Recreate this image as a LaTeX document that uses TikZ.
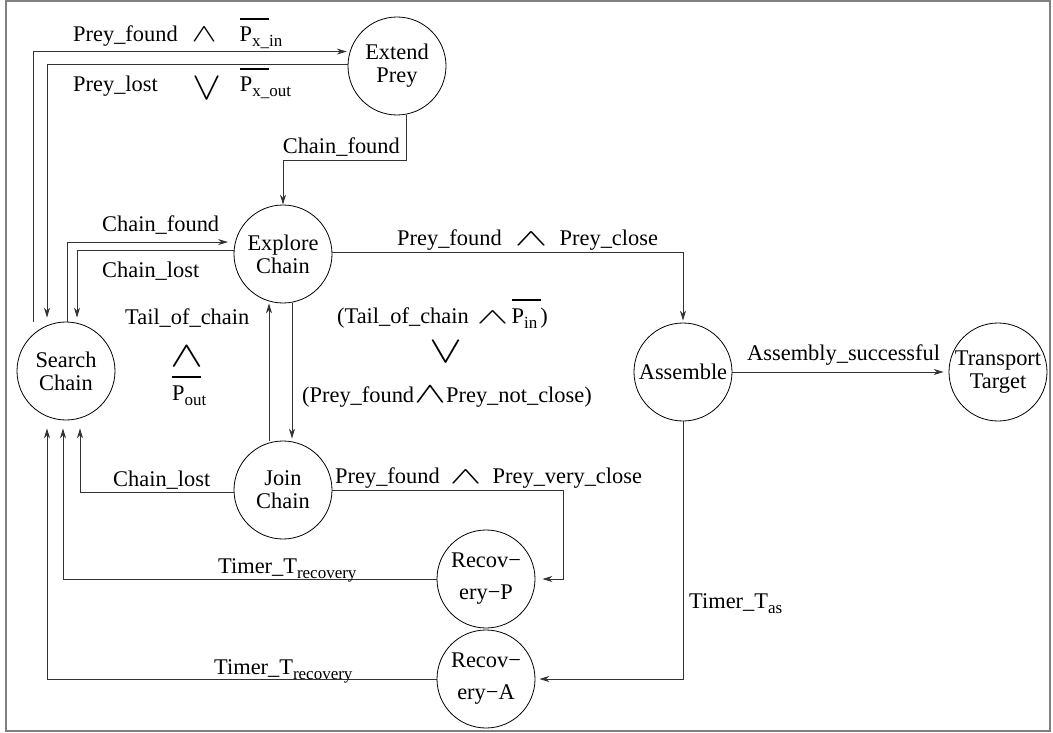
\documentclass[tikz,border=0pt]{standalone}
\usepackage{graphicx}
\usepackage{fontspec}
\setmainfont{Liberation Serif}
\usetikzlibrary{arrows.meta,calc}
\newcommand\olP{\rlap{\rule[1em]{1.3em}{0.05em}}P}
\newcommand\sbs[1]{\raisebox{-5pt}{\fontsize{17}{17}\selectfont #1}}
\newcommand\wdg[2]{\resizebox{#1}{#2}{$\wedge$}}
\newcommand\orv[2]{\resizebox{#1}{#2}{$\vee$}}
\begin{document}
\begin{tikzpicture}[x=1pt,y=-1pt,
  state/.style={circle,draw,line width=0.8pt,minimum size=98pt,inner sep=0pt,align=center,font=\fontsize{22.4}{23}\selectfont},
  lbl/.style={inner sep=0pt,font=\fontsize{22.4}{23}\selectfont},
  conn/.style={line width=0.8pt,draw=black!80},
  arr/.style={conn,-{Stealth[length=10pt,width=6pt]}},
]
\useasboundingbox (0,0) rectangle (1053,733);
\draw[gray,line width=1.5pt] (6,1) rectangle (1050,731);

% states
\node[state] (ext)  at (397,66)  {Extend\\Prey};
\node[state] (expl) at (283,254) {Explore\\Chain};
\node[state] (srch) at (66,371)  {Search\\Chain};
\node[state] (join) at (283,490) {Join\\Chain};
\node[state] (recp) at (486,579) {Recov−\\[9pt]ery−P};
\node[state] (reca) at (486,679) {Recov−\\[9pt]ery−A};
\node[state] (asm)  at (683,372) {Assemble};
\node[state] (trn)  at (998,372) {Transport\\Target};

% connectors
\draw[arr,shorten >=3pt] ([xshift=-33pt]srch.north) |- (ext.163);
\draw[arr] (ext.178) -| ([xshift=-19pt,yshift=4pt]srch.north);
\draw[arr] ([xshift=9pt]ext.south) -- ++(0,45) -| (expl.north);
\draw[arr,shorten >=7pt] ([xshift=1pt]srch.north) |- (expl.166);
\draw[arr] (expl.176) -| ([xshift=11pt,yshift=4pt]srch.north);
\draw[arr,shorten >=2pt] (expl.2) -| (asm.north);
\draw[arr,shorten >=2pt] ([xshift=9pt]expl.south) -- ([xshift=9pt]join.north);
\draw[arr] ([xshift=-14pt]join.north) -- ([xshift=-14pt]expl.south);
\draw[arr] (join.183) -| ([xshift=14pt,yshift=-8pt]srch.south);
\draw[arr,shorten >=7pt] (join.east) -| ($(recp.east)+(28,0)$) |- (recp.east);
\draw[arr] (recp.west) -| ([xshift=-3pt,yshift=-8pt]srch.south);
\draw[arr] (reca.west) -| ([xshift=-19pt,yshift=-8pt]srch.south);
\draw[arr,shorten >=5pt] (asm.east) -- (trn.west);
\draw[arr,shorten >=4pt] (asm.south) |- (reca.east);

% labels
\node[lbl,anchor=base west] (l1) at (73,42) {Prey\_found\hspace{14pt}\wdg{25pt}{14pt}\hspace{23pt}\olP\sbs{x\_in}};
\node[lbl,anchor=base west] (l2) at (73,92) {Prey\_lost\hspace{35pt}\raisebox{-8pt}{\orv{29pt}{22pt}}\hspace{18pt}\olP\sbs{x\_out}};
\node[lbl,anchor=base east] (l3) at (400,154) {Chain\_found};
\node[lbl,anchor=base west] (l4) at (102,232) {Chain\_found};
\node[lbl,anchor=base west] (l5) at (102,277) {Chain\_lost};
\node[lbl,anchor=base west] (l6) at (125,324) {Tail\_of\_chain};
\node[lbl] (l6w) at (187,356) {\wdg{33pt}{20pt}};
\node[lbl,anchor=base west] (l6p) at (172,400) {\olP\sbs{out}};
\node[lbl,anchor=base west] (l7) at (337,323) {(Tail\_of\_chain\hspace{8pt}\wdg{32pt}{12pt}\hspace{3pt}\olP\sbs{in}\hspace{3pt})};
\node[lbl] (l7v) at (446,352) {\orv{33pt}{21pt}};
\node[lbl,anchor=base west] (l8) at (302,402) {(Prey\_found\wdg{32pt}{16pt}Prey\_not\_close)};
\node[lbl,anchor=base west] (l9) at (397,245) {Prey\_found\hspace{13pt}\wdg{33pt}{13pt}\hspace{12pt}Prey\_close};
\node[lbl,anchor=base west] (l10) at (747,360) {Assembly\_successful};
\node[lbl,anchor=base west] (l11) at (335,483) {Prey\_found\hspace{10pt}\wdg{32pt}{13pt}\hspace{11pt}Prey\_very\_close};
\node[lbl,anchor=base west] (l12) at (113,486) {Chain\_lost};
\node[lbl,anchor=base west] (l13) at (218,573) {Timer\_T\sbs{recovery}};
\node[lbl,anchor=base west] (l14) at (214,674) {Timer\_T\sbs{recovery}};
\node[lbl,anchor=base west] (l15) at (689,608) {Timer\_T\sbs{as}};
\end{tikzpicture}
\end{document}
